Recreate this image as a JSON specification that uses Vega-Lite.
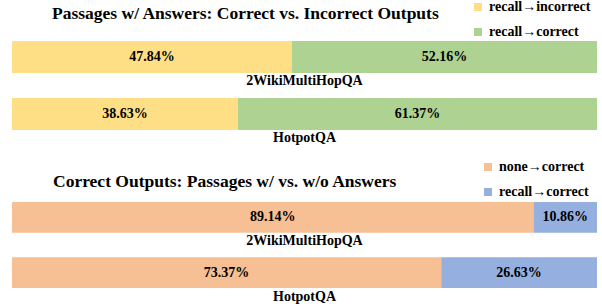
{
  "$schema": "https://vega.github.io/schema/vega-lite/v6.json",
  "padding": {"left": 12, "right": 5, "top": 0, "bottom": 0},
  "background": "white",
  "config": {
    "view": {"stroke": null},
    "font": "Liberation Serif",
    "text": {"font": "Liberation Serif"},
    "title": {"font": "Liberation Serif", "fontWeight": "bold", "fontSize": 17.5, "color": "black"},
    "legend": {"labelFont": "Liberation Serif", "labelFontWeight": "bold", "labelFontSize": 14, "labelColor": "black", "symbolType": "square", "symbolSize": 64, "symbolStrokeWidth": 0, "rowPadding": 11, "labelOffset": 4, "padding": 0}
  },
  "vconcat": [
    {
      "width": 585,
      "height": 89,
      "title": {"text": "Passages w/ Answers: Correct vs. Incorrect Outputs", "anchor": "start", "dx": 40, "offset": -22},
      "data": {"values": [
        {"dataset": "2WikiMultiHopQA", "category": "recall→incorrect", "value": 0.4784},
        {"dataset": "2WikiMultiHopQA", "category": "recall→correct", "value": 0.5216},
        {"dataset": "HotpotQA", "category": "recall→incorrect", "value": 0.3863},
        {"dataset": "HotpotQA", "category": "recall→correct", "value": 0.6137}
      ]},
      "transform": [
        {"stack": "value", "groupby": ["dataset"], "sort": [{"field": "category", "order": "descending"}], "as": ["x0", "x1"]},
        {"calculate": "(datum.x0 + datum.x1) / 2", "as": "mid"}
      ],
      "layer": [
        {
          "mark": {"type": "bar"},
          "encoding": {
            "y": {"field": "dataset", "type": "nominal", "sort": ["2WikiMultiHopQA", "HotpotQA"], "axis": null, "scale": {"paddingInner": 0.44, "paddingOuter": 0}},
            "x": {"field": "x0", "type": "quantitative", "axis": null, "scale": {"domain": [0, 1], "nice": false}},
            "x2": {"field": "x1"},
            "color": {"field": "category", "type": "nominal", "scale": {"domain": ["recall→incorrect", "recall→correct"], "range": ["#FFDF85", "#ADD291"]}, "legend": {"title": null, "orient": "none", "legendX": 459, "legendY": -41}}
          }
        },
        {
          "mark": {"type": "text", "font": "Liberation Serif", "fontWeight": "bold", "fontSize": 14, "color": "black"},
          "encoding": {
            "y": {"field": "dataset", "type": "nominal", "sort": ["2WikiMultiHopQA", "HotpotQA"]},
            "x": {"field": "mid", "type": "quantitative"},
            "text": {"field": "value", "type": "quantitative", "format": ".2%"}
          }
        },
        {
          "transform": [{"filter": "datum.category == 'recall→correct'"}],
          "mark": {"type": "text", "font": "Liberation Serif", "fontWeight": "bold", "fontSize": 14, "color": "black", "dy": 24},
          "encoding": {
            "y": {"field": "dataset", "type": "nominal", "sort": ["2WikiMultiHopQA", "HotpotQA"]},
            "x": {"datum": 0.5, "type": "quantitative"},
            "text": {"field": "dataset"}
          }
        }
      ]
    },
    {
      "width": 585,
      "height": 86,
      "title": {"text": "Correct Outputs: Passages w/ vs. w/o Answers", "anchor": "start", "dx": 41, "offset": -30},
      "data": {"values": [
        {"dataset": "2WikiMultiHopQA", "category": "none→correct", "value": 0.8914},
        {"dataset": "2WikiMultiHopQA", "category": "recall→correct", "value": 0.1086},
        {"dataset": "HotpotQA", "category": "none→correct", "value": 0.7337},
        {"dataset": "HotpotQA", "category": "recall→correct", "value": 0.2663}
      ]},
      "transform": [
        {"stack": "value", "groupby": ["dataset"], "sort": [{"field": "category", "order": "ascending"}], "as": ["x0", "x1"]},
        {"calculate": "(datum.x0 + datum.x1) / 2", "as": "mid"}
      ],
      "layer": [
        {
          "mark": {"type": "bar"},
          "encoding": {
            "y": {"field": "dataset", "type": "nominal", "sort": ["2WikiMultiHopQA", "HotpotQA"], "axis": null, "scale": {"paddingInner": 0.44, "paddingOuter": 0}},
            "x": {"field": "x0", "type": "quantitative", "axis": null, "scale": {"domain": [0, 1], "nice": false}},
            "x2": {"field": "x1"},
            "color": {"field": "category", "type": "nominal", "scale": {"domain": ["none→correct", "recall→correct"], "range": ["#F6BF94", "#95AFDF"]}, "legend": {"title": null, "orient": "none", "legendX": 469, "legendY": -42}}
          }
        },
        {
          "mark": {"type": "text", "font": "Liberation Serif", "fontWeight": "bold", "fontSize": 14, "color": "black"},
          "encoding": {
            "y": {"field": "dataset", "type": "nominal", "sort": ["2WikiMultiHopQA", "HotpotQA"]},
            "x": {"field": "mid", "type": "quantitative"},
            "text": {"field": "value", "type": "quantitative", "format": ".2%"}
          }
        },
        {
          "transform": [{"filter": "datum.category == 'recall→correct'"}],
          "mark": {"type": "text", "font": "Liberation Serif", "fontWeight": "bold", "fontSize": 14, "color": "black", "dy": 24},
          "encoding": {
            "y": {"field": "dataset", "type": "nominal", "sort": ["2WikiMultiHopQA", "HotpotQA"]},
            "x": {"datum": 0.5, "type": "quantitative"},
            "text": {"field": "dataset"}
          }
        }
      ]
    }
  ],
  "spacing": 14,
  "resolve": {"scale": {"color": "independent"}}
}
